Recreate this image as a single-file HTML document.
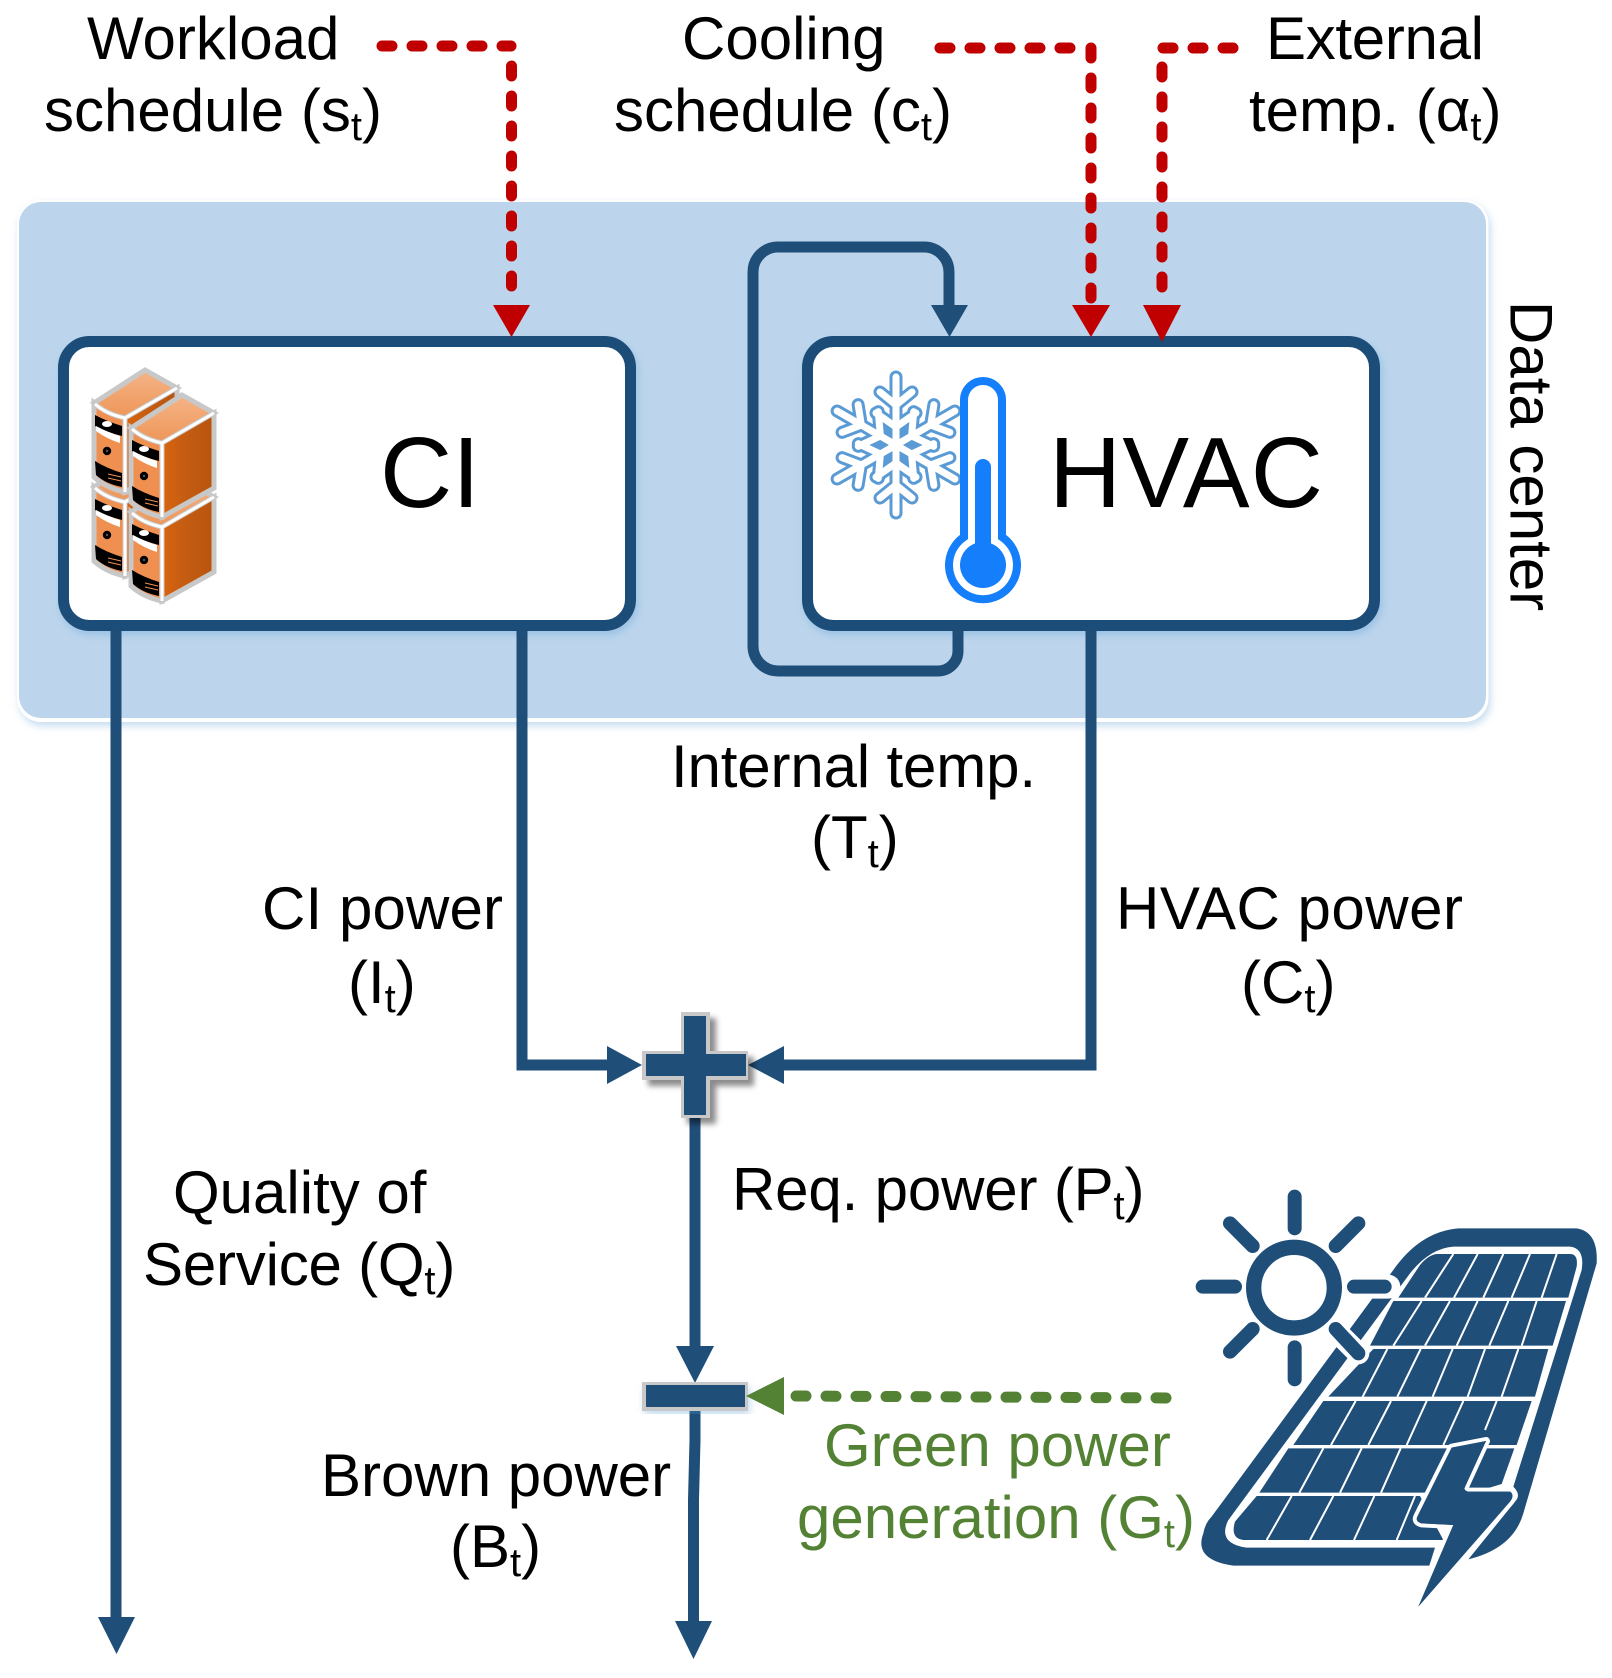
<!DOCTYPE html>
<html><head><meta charset="utf-8">
<style>
html,body{margin:0;padding:0;background:#fff}
svg{display:block}
text{font-family:"Liberation Sans",Arial,sans-serif;font-size:60px;fill:#000}
.g{fill:#548235}
</style></head><body>
<svg width="1612" height="1678" viewBox="0 0 1612 1678" xmlns="http://www.w3.org/2000/svg">
<defs>
<filter id="soft" x="-10%" y="-10%" width="120%" height="120%"><feDropShadow dx="2" dy="4" stdDeviation="4" flood-color="#5b9bd5" flood-opacity=".35"/></filter>
<filter id="hard" x="-20%" y="-20%" width="150%" height="150%"><feDropShadow dx="6" dy="6" stdDeviation="3" flood-color="#000" flood-opacity=".45"/></filter>
<linearGradient id="side" x1="0" y1="0" x2="1" y2="0"><stop offset="0" stop-color="#d9640f"/><stop offset=".45" stop-color="#c45c12"/><stop offset="1" stop-color="#b9540e"/></linearGradient>
<linearGradient id="top" x1="0" y1="0" x2="0" y2="1"><stop offset="0" stop-color="#f5b488"/><stop offset="1" stop-color="#ee9658"/></linearGradient>
<g id="srv">
<path d="M0,0 Q12,11 31,15 L83,-15 L51,-33 Z" fill="url(#top)" stroke="#c8c8c8" stroke-width="5"/>
<path d="M0,0 Q12,11 31,15 V89 Q12,85 0,74 Z" fill="#f09050" stroke="#c8c8c8" stroke-width="5"/>
<path d="M31,15 L83,-15 V60 L31,89 Z" fill="url(#side)" stroke="#c8c8c8" stroke-width="5"/>
<path d="M1,1 Q12,11 31,15 L83,-15" fill="none" stroke="#fff" stroke-width="3"/>
<path d="M31,15 V89" stroke="#fff" stroke-width="3"/>
<path d="M1,12 Q12,18 28,23 V33 Q12,29 1,23 Z" fill="#000"/>
<path d="M2,23 Q13,29 26,33 V40 Q13,36 2,28 Z" fill="#fff"/>
<ellipse cx="13" cy="21" rx="5" ry="3" fill="#fff"/>
<circle cx="13" cy="48" r="4.2" fill="#000"/><circle cx="13" cy="48" r="1.2" fill="#555"/>
<path d="M1,58 Q12,65 28,70 V84 Q12,81 2,72 Z" fill="#000"/>
<path d="M14,71 L27,74 M14,75 L27,78" stroke="#f09050" stroke-width="1"/>
</g>
<g id="arm">
<path d="M0,0 V-68 M0,-40 L-16,-53 M0,-40 L16,-53 M0,-18 L-20,-32 M0,-18 L20,-32"/>
</g>
<g id="flake">
<use href="#arm"/><use href="#arm" transform="rotate(60)"/><use href="#arm" transform="rotate(120)"/>
<use href="#arm" transform="rotate(180)"/><use href="#arm" transform="rotate(240)"/><use href="#arm" transform="rotate(300)"/>
</g>
<polygon id="dia" points="0,-9 -4,-16 0,-24 4,-16" fill="#5b9bd5"/>
</defs>

<!-- data center panel -->
<rect x="17" y="200" width="1471.5" height="522" rx="24" fill="#fff" filter="url(#soft)"/>
<rect x="19" y="202" width="1467" height="516" rx="22" fill="#bcd5ec"/>

<!-- CI + HVAC boxes -->
<rect x="63.5" y="341.5" width="567" height="284" rx="26" fill="#fff" stroke="#1f4e79" stroke-width="11" filter="url(#soft)"/>
<rect x="807.5" y="341.5" width="567" height="284" rx="26" fill="#fff" stroke="#1f4e79" stroke-width="11" filter="url(#soft)"/>

<!-- servers -->
<use href="#srv" transform="translate(94,487)"/>
<use href="#srv" transform="translate(94,403)"/>
<use href="#srv" transform="translate(131,512)"/>
<use href="#srv" transform="translate(131,428)"/>

<!-- snowflake -->
<g transform="translate(896,445)" fill="none" stroke-linecap="round" stroke-linejoin="round">
<use href="#flake" stroke="#5b9bd5" stroke-width="13"/>
<use href="#flake" stroke="#fff" stroke-width="7"/>
<use href="#dia" transform="rotate(-30)"/><use href="#dia" transform="rotate(30)"/><use href="#dia" transform="rotate(90)"/>
<use href="#dia" transform="rotate(150)"/><use href="#dia" transform="rotate(210)"/><use href="#dia" transform="rotate(270)"/>
</g>

<!-- thermometer -->
<path d="M964,400 a19,19 0 0 1 38,0 V537 A34,34 0 1 1 964,537 Z" fill="#fff" stroke="#157efb" stroke-width="8"/>
<circle cx="983" cy="565" r="23" fill="#157efb"/>
<path d="M975,467 a8,8 0 0 1 16,0 V560 H975 Z" fill="#157efb"/>

<text x="380" y="507" style="font-size:100px">CI</text>
<text x="1049" y="507" style="font-size:100px" textLength="274">HVAC</text>

<!-- blue connectors -->
<g fill="none" stroke="#1f4e79" stroke-width="11">
<path d="M958,631 V651 A20,20 0 0 1 938,671 H778 A25,25 0 0 1 753,646 V272 A25,25 0 0 1 778,247 H924 A25,25 0 0 1 949,272 V306"/>
<path d="M116,631 V1618"/>
<path d="M522,631 V1065 H608"/>
<path d="M1091,631 V1065 H783"/>
<path d="M695,1115 V1347"/>
<path d="M695,1411 V1440 L693.5,1500 V1622"/>
</g>
<g fill="#1f4e79">
<polygon points="931,305 968,305 949.5,337"/>
<polygon points="98,1617 135,1617 116.5,1654"/>
<polygon points="676,1346 714,1346 695,1383"/>
<polygon points="675,1621 712,1621 693.5,1659"/>
<polygon points="607,1046 607,1084 642,1065"/>
<polygon points="784,1046 784,1084 748,1065"/>
</g>

<!-- cross -->
<path d="M681,1012 H710 V1051 H748 V1080 H710 V1118 H681 V1080 H642 V1051 H681 Z" fill="#c8c8c8" filter="url(#hard)"/>
<path d="M684,1016 H706 V1054 H746 V1076 H706 V1115 H684 V1076 H646 V1054 H684 Z" fill="#1f4e79"/>
<!-- bar -->
<rect x="642" y="1382" width="106" height="29" fill="#c8c8c8" filter="url(#soft)"/>
<rect x="646" y="1385" width="99" height="22" fill="#1f4e79"/>

<!-- red dashed -->
<g fill="none" stroke="#c00000" stroke-width="11" stroke-linecap="round" stroke-dasharray="10 20">
<path d="M382,46 H511 "/>
<path d="M511.5,66 V302"/>
<path d="M940,48 H1080"/>
<path d="M1091,48 V305"/>
<path d="M1233,48 H1160"/>
<path d="M1162,67 V305"/>
</g>
<g fill="#c00000">
<polygon points="493,305 530,305 511.5,337"/>
<polygon points="1072,305 1110,305 1091,337"/>
<polygon points="1143,305 1181,305 1162,342"/>
</g>

<!-- green dashed -->
<path d="M796,1396 L1172,1398" fill="none" stroke="#548235" stroke-width="11" stroke-linecap="round" stroke-dasharray="10 20"/>
<polygon points="746,1396 784,1377 784,1415" fill="#548235"/>

<!-- labels -->
<text x="87" y="59">Workload</text>
<text x="44" y="131">schedule (s<tspan dy="9" style="font-size:40px">t</tspan><tspan dy="-9">)</tspan></text>
<text x="682" y="59">Cooling</text>
<text x="614" y="131">schedule (c<tspan dy="9" style="font-size:40px">t</tspan><tspan dy="-9">)</tspan></text>
<text x="1266" y="59" textLength="218">External</text>
<text x="1249" y="131">temp. (α<tspan dy="9" style="font-size:40px">t</tspan><tspan dy="-9">)</tspan></text>
<text transform="translate(1510.5,301) rotate(90)">Data center</text>
<text x="671" y="787" textLength="365">Internal temp.</text>
<text x="811" y="858">(T<tspan dy="9" style="font-size:40px">t</tspan><tspan dy="-9">)</tspan></text>
<text x="262" y="929" textLength="241">CI power</text>
<text x="348" y="1003">(I<tspan dy="9" style="font-size:40px">t</tspan><tspan dy="-9">)</tspan></text>
<text x="1116" y="929" textLength="347">HVAC power</text>
<text x="1241" y="1003">(C<tspan dy="9" style="font-size:40px">t</tspan><tspan dy="-9">)</tspan></text>
<text x="173" y="1213">Quality of</text>
<text x="143" y="1285" style="letter-spacing:-.2px">Service (Q<tspan dy="9" style="font-size:40px">t</tspan><tspan dy="-9">)</tspan></text>
<text x="732" y="1210" style="letter-spacing:-.15px">Req. power (P<tspan dy="9" style="font-size:40px">t</tspan><tspan dy="-9">)</tspan></text>
<text x="321" y="1496">Brown power</text>
<text x="450" y="1567">(B<tspan dy="9" style="font-size:40px">t</tspan><tspan dy="-9">)</tspan></text>
<text class="g" x="824" y="1466">Green power</text>
<text class="g" x="797" y="1538">generation (G<tspan dy="9" style="font-size:40px">t</tspan><tspan dy="-9">)</tspan></text>

<!-- solar panel -->
<g transform="translate(1180,1180) scale(.33333)">
<path d="M640,270 Q720,155 835,145 H1190 Q1255,155 1250,250 L1030,1000 Q1000,1105 865,1138 L1005,965 Q1025,945 1000,920 L1205,270 Q1215,205 1170,200 H820 Q750,205 690,280 L145,1020 Q110,1090 200,1103 H765 L748,1157 H160 Q40,1140 70,1060 Q75,1030 95,1010 Z" fill="#1f4e79"/>
<g fill="#1f4e79">
<path d="M770,222 H1170 Q1195,222 1190,260 L1165,353 H655 L720,255 Q745,225 770,222 Z"/>
<polygon points="640,363 1158,363 1118,497 570,497"/>
<polygon points="580,507 1105,507 1065,650 445,650"/>
<polygon points="430,663 1055,663 1010,795 340,795"/>
<polygon points="325,805 1003,805 965,912 880,938 238,938"/>
<path d="M230,948 H720 L790,1080 H190 Q150,1075 165,1025 Z"/>
</g>
<g stroke="#fff" stroke-width="6" fill="none">
<path d="M820,222 L735,353 M893,222 L822,353 M970,222 L910,353 M1050,222 L995,353 M1130,222 L1085,353"/>
<path d="M725,363 L640,497 M810,363 L735,497 M893,363 L830,497 M985,363 L928,497 M1070,363 L1025,497"/>
<path d="M622,507 L548,650 M722,507 L652,650 M818,507 L758,650 M915,507 L863,650 M1015,507 L965,650"/>
<path d="M527,663 L453,795 M633,663 L565,795 M740,663 L680,795 M850,663 L790,795 M950,663 L915,750"/>
<path d="M430,805 L358,938 M545,805 L480,938 M662,805 L603,938"/>
<path d="M335,948 L260,1080 M460,948 L390,1080 M583,948 L522,1080 M705,948 L650,1080"/>
</g>
<!-- lightning -->
<path d="M815,803 L918,783 L853,925 Q855,935 870,935 L990,935 Q1005,945 990,965 L715,1280 L820,1035 L725,1030 Q705,1025 712,1010 Z" fill="#1f4e79" stroke="#fff" stroke-width="24" stroke-linejoin="round" paint-order="stroke"/>
<path d="M815,803 L918,783 L853,925 Q855,935 870,935 L990,935 Q1005,945 990,965 L715,1280 L820,1035 L725,1030 Q705,1025 712,1010 Z" fill="#1f4e79"/>
<!-- sun halos -->
<g stroke="#fff" stroke-linecap="round" fill="none">
<path d="M510,320 H625" stroke-width="72"/>
<path d="M470,455 L535,520" stroke-width="66"/>
</g>
<g fill="#1f4e79">
<path d="M575,365 H610 L550,455 L525,432 Z"/>
<path d="M465,515 L492,535 L145,1020 L95,1010 Z"/>
</g>
<!-- sun -->
<circle cx="342" cy="323" r="121" fill="#fff" stroke="#1f4e79" stroke-width="46"/>
<g stroke="#1f4e79" stroke-width="42" stroke-linecap="round" fill="none">
<path d="M344,50 V145 M344,502 V598 M68,320 H165 M522,320 H614"/>
<path d="M150,130 L218,198 M535,130 L467,198 M150,515 L218,447 M467,447 L535,520"/>
</g>
</g>
</svg>
</body></html>
